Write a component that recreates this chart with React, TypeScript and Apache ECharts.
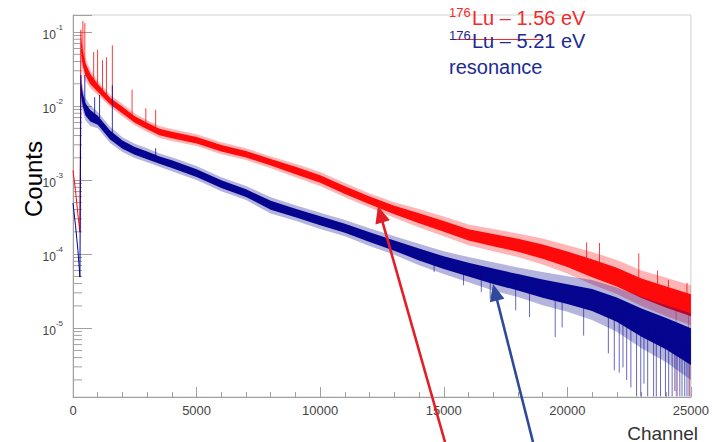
import React, { useEffect, useRef } from "react";
import * as echarts from "echarts";

// ---- data (counts are stored as log10 exponents) ----
const Y_MIN = 1.175e-6;
const Y_MAX = 0.17;

const leadChannels = [0, 100, 200, 280, 320];
const redLeadExp = [-2.87, -3.14, -3.47, -3.7, -0.97];
const blueLeadExp = [-3.31, -3.61, -3.95, -4.31, -1.58];

const bandChannels = [
  320, 400, 500, 700, 1000, 1500, 2000, 2500, 3000, 3500, 4000, 5000, 6000, 7000, 8000, 9000, 10000,
  11000, 12000, 13000, 14000, 15000, 16000, 17000, 18000, 19000, 20000, 21000, 22000, 23000, 24000, 25000,
];
const redHighExp = [
  -0.97, -1.18, -1.35, -1.51, -1.66, -1.85, -1.97, -2.1, -2.19, -2.27, -2.31, -2.38, -2.49, -2.57, -2.68, -2.78,
  -2.89, -3.04, -3.18, -3.3, -3.39, -3.49, -3.6, -3.66, -3.72, -3.79, -3.88, -3.97, -4.08, -4.22, -4.32, -4.42,
];
const redLowExp = [
  -1.38, -1.54, -1.65, -1.76, -1.85, -2.01, -2.14, -2.26, -2.35, -2.43, -2.47, -2.54, -2.65, -2.73, -2.84, -2.96,
  -3.08, -3.23, -3.37, -3.51, -3.64, -3.76, -3.88, -3.96, -4.04, -4.14, -4.26, -4.41, -4.54, -4.7, -4.84, -4.96,
];
const blueHighExp = [
  -1.58, -1.76, -1.89, -1.99, -2.08, -2.28, -2.42, -2.51, -2.57, -2.64, -2.69, -2.81, -2.96, -3.08, -3.23, -3.34,
  -3.44, -3.54, -3.65, -3.76, -3.86, -3.96, -4.04, -4.11, -4.18, -4.24, -4.3, -4.35, -4.45, -4.58, -4.69, -4.8,
];
const blueLowExp = [
  -1.92, -2.08, -2.19, -2.27, -2.3, -2.5, -2.62, -2.7, -2.76, -2.82, -2.88, -3.0, -3.15, -3.27, -3.45, -3.55,
  -3.66, -3.76, -3.89, -4.01, -4.15, -4.27, -4.38, -4.49, -4.58, -4.69, -4.78, -4.89, -5.05, -5.27, -5.46, -5.7,
];

const redSpikeChannels = [400, 478, 836, 995, 1194, 1354, 1592, 2389, 2946, 3344, 20780, 21300, 22890, 23650, 24090, 24840];
const redSpikeExp = [-0.85, -0.88, -1.27, -1.24, -1.38, -1.34, -1.18, -1.78, -2.03, -2.05, -3.84, -3.85, -3.99, -4.22, -4.35, -4.39];

const redDipChannels = [24400, 24900];
const redDipExp = [-5.92, -5.92];

const blueSpikeChannels = [478, 876, 1075, 1592, 2468, 2946, 3344];
const blueSpikeExp = [-1.58, -1.88, -1.85, -1.72, -2.6, -2.69, -2.57];

const blueDipChannels = [
  14610, 15800, 16520, 16880, 17910, 18470, 19510, 19790, 20660, 21660, 21900, 22100, 22250, 22400, 22570, 22800,
  22970, 23100, 23250, 23490, 23600, 23770, 23970, 24100, 24240, 24350, 24440, 24550, 24640, 24750, 24840, 24950,
];
const blueDipExp = [
  -4.24, -4.42, -4.51, -4.6, -4.76, -4.85, -5.12, -4.99, -5.1, -5.34, -5.57, -5.6, -5.53, -5.7, -5.8, -5.92,
  -5.92, -5.75, -5.92, -5.92, -5.92, -5.92, -5.92, -5.92, -5.92, -5.85, -5.92, -5.92, -5.92, -5.92, -5.92, -5.92,
];

const xTickStep = 5000;

// ---- styles ----
const FONT = "'Liberation Sans', Arial, Helvetica, sans-serif";
const RED = "#ff0a0a";
const BLUE = "#05058f";
const TEXT_RED = "#f22a2a";
const TEXT_BLUE = "#1c2a96";

function centerAt(hi: number[], lo: number[], c: number) {
  const ch = bandChannels;
  if (c <= ch[0]) return (hi[0] + lo[0]) / 2;
  for (let i = 0; i < ch.length - 1; i++) {
    if (c >= ch[i] && c <= ch[i + 1]) {
      const t = (c - ch[i]) / (ch[i + 1] - ch[i]);
      const a = (hi[i] + lo[i]) / 2;
      const b = (hi[i + 1] + lo[i + 1]) / 2;
      return a + (b - a) * t;
    }
  }
  const n = ch.length - 1;
  return (hi[n] + lo[n]) / 2;
}

function bandSeries(hi: number[], lo: number[], frac: number, color: string, opacity: number) {
  const h = hi.map((v, i) => (hi[i] + lo[i]) / 2 + frac * (v - (hi[i] + lo[i]) / 2));
  const l = lo.map((v, i) => (hi[i] + lo[i]) / 2 + frac * (v - (hi[i] + lo[i]) / 2));
  return {
    type: "custom",
    silent: true,
    clip: true,
    data: bandChannels.map((c, i) => [c, Math.pow(10, h[i]), Math.pow(10, l[i])]),
    renderItem: (params: any, api: any) => {
      if (params.dataIndex !== 0) return null;
      const pts: number[][] = [];
      for (let i = 0; i < bandChannels.length; i++) pts.push(api.coord([bandChannels[i], Math.pow(10, h[i])]));
      for (let i = bandChannels.length - 1; i >= 0; i--) pts.push(api.coord([bandChannels[i], Math.pow(10, l[i])]));
      return { type: "polygon", shape: { points: pts }, style: { fill: color, opacity } };
    },
  };
}

function spikeSeries(chs: number[], exps: number[], hi: number[], lo: number[], color: string, opacity: number) {
  return {
    type: "custom",
    silent: true,
    clip: true,
    data: chs.map((c, i) => [c, Math.pow(10, exps[i]), Math.pow(10, centerAt(hi, lo, c))]),
    renderItem: (params: any, api: any) => {
      const a = api.coord([api.value(0), api.value(1)]);
      const b = api.coord([api.value(0), api.value(2)]);
      return {
        type: "line",
        shape: { x1: a[0], y1: a[1], x2: b[0], y2: b[1] },
        style: { stroke: color, lineWidth: 1, opacity },
      };
    },
  };
}

function leadSeries(exps: number[], color: string) {
  return {
    type: "line",
    silent: true,
    showSymbol: false,
    symbol: "none",
    data: leadChannels.map((c, i) => [c, Math.pow(10, exps[i])]),
    lineStyle: { color, width: 1 },
  };
}

function arrow(x0: number, y0: number, x1: number, y1: number, color: string) {
  const dx = x1 - x0;
  const dy = y1 - y0;
  const len = Math.sqrt(dx * dx + dy * dy);
  const ux = dx / len;
  const uy = dy / len;
  const hl = 17;
  const hw = 7.5;
  const bx = x1 - ux * hl;
  const by = y1 - uy * hl;
  const px = -uy;
  const py = ux;
  return [
    {
      type: "line",
      shape: { x1: x0, y1: y0, x2: bx + ux * 2, y2: by + uy * 2 },
      style: { stroke: color, lineWidth: 2.6 },
      z: 100,
    },
    {
      type: "polygon",
      shape: {
        points: [
          [x1, y1],
          [bx + px * hw, by + py * hw],
          [bx - px * hw, by - py * hw],
        ],
      },
      style: { fill: color },
      z: 100,
    },
  ];
}

export default function App() {
  const ref = useRef<HTMLDivElement>(null);
  useEffect(() => {
    if (!ref.current) return;
    const chart = echarts.init(ref.current, undefined, { renderer: "svg" });

    const minorVals: number[][] = [];
    for (let n = -7; n <= 0; n++) {
      for (let k = 2; k <= 9; k++) {
        const v = k * Math.pow(10, n);
        if (v > Y_MIN && v < Y_MAX) minorVals.push([0, v]);
      }
    }

    const option: any = {
      animation: false,
      grid: {
        left: 73,
        right: 11,
        top: 15,
        bottom: 45,
        show: true,
        borderColor: "#cfcfcf",
        borderWidth: 1,
      },
      xAxis: {
        type: "value",
        min: 0,
        max: 25000,
        interval: xTickStep,
        axisLine: { show: true, lineStyle: { color: "#a0a0a0", width: 1 } },
        axisTick: { show: true, inside: true, length: 10, lineStyle: { color: "#a0a0a0" } },
        minorTick: { show: true, splitNumber: 5, length: 5, lineStyle: { color: "#a0a0a0" } },
        axisLabel: {
          color: "#444",
          fontSize: 13,
          margin: 7,
          fontFamily: FONT,
          formatter: (v: number) => String(v),
        },
        splitLine: { show: false },
        minorSplitLine: { show: false },
      },
      yAxis: {
        type: "log",
        logBase: 10,
        min: Y_MIN,
        max: Y_MAX,
        axisLine: { show: true, lineStyle: { color: "#a0a0a0", width: 1 } },
        axisTick: { show: true, inside: true, length: 19, lineStyle: { color: "#a0a0a0" } },
        splitLine: { show: false },
        axisLabel: {
          margin: 10,
          formatter: (v: number) => {
            const e = Math.log10(v);
            const r = Math.round(e);
            if (Math.abs(e - r) > 1e-6) return "";
            return "{b|10}{s|" + r + "}";
          },
          rich: {
            b: { fontSize: 12, color: "#444", fontFamily: FONT, verticalAlign: "bottom", lineHeight: 18 },
            s: { fontSize: 8, color: "#444", fontFamily: FONT, verticalAlign: "top", lineHeight: 10 },
          },
        },
      },
      series: [
        bandSeries(redHighExp, redLowExp, 1, RED, 0.3),
        bandSeries(redHighExp, redLowExp, 0.55, RED, 1),
        leadSeries(redLeadExp, RED),
        spikeSeries(redSpikeChannels, redSpikeExp, redHighExp, redLowExp, RED, 0.8),
        spikeSeries(redDipChannels, redDipExp, redHighExp, redLowExp, RED, 0.4),
        bandSeries(blueHighExp, blueLowExp, 1, BLUE, 0.3),
        bandSeries(blueHighExp, blueLowExp, 0.55, BLUE, 1),
        leadSeries(blueLeadExp, BLUE),
        spikeSeries(blueSpikeChannels, blueSpikeExp, blueHighExp, blueLowExp, BLUE, 0.8),
        spikeSeries(blueDipChannels, blueDipExp, blueHighExp, blueLowExp, BLUE, 0.6),
        {
          type: "custom",
          silent: true,
          data: minorVals,
          renderItem: (params: any, api: any) => {
            const p = api.coord([api.value(0), api.value(1)]);
            return {
              type: "line",
              shape: { x1: p[0], y1: p[1], x2: p[0] + 9, y2: p[1] },
              style: { stroke: "#a0a0a0", lineWidth: 1 },
            };
          },
        },
      ],
      graphic: [
        {
          type: "text",
          x: 33,
          y: 179,
          rotation: Math.PI / 2,
          style: { text: "Counts", font: `24px ${FONT}`, fill: "#000", align: "center", verticalAlign: "middle" },
        },
        {
          type: "text",
          x: 698,
          y: 433,
          style: { text: "Channel", font: `19px ${FONT}`, fill: "#333", align: "right", verticalAlign: "middle" },
        },
        {
          type: "line",
          shape: { x1: 450, y1: 39.5, x2: 544, y2: 39.5 },
          style: { stroke: TEXT_RED, lineWidth: 1.2 },
          z: 90,
        },
        {
          type: "text",
          x: 449,
          y: 12.5,
          style: { text: "176", font: `13px ${FONT}`, fill: TEXT_RED, align: "left", verticalAlign: "middle" },
          z: 95,
        },
        {
          type: "text",
          x: 472,
          y: 18,
          style: { text: "Lu – 1.56 eV", font: `20px ${FONT}`, fill: TEXT_RED, align: "left", verticalAlign: "middle" },
          z: 95,
        },
        {
          type: "text",
          x: 449,
          y: 35.5,
          style: { text: "176", font: `13px ${FONT}`, fill: TEXT_BLUE, align: "left", verticalAlign: "middle" },
          z: 95,
        },
        {
          type: "text",
          x: 472,
          y: 41,
          style: { text: "Lu – 5.21 eV", font: `20px ${FONT}`, fill: TEXT_BLUE, align: "left", verticalAlign: "middle" },
          z: 95,
        },
        {
          type: "text",
          x: 449,
          y: 67,
          style: { text: "resonance", font: `20px ${FONT}`, fill: TEXT_BLUE, align: "left", verticalAlign: "middle" },
          z: 95,
        },
        ...arrow(445, 442, 378, 206, "#e41e26"),
        ...arrow(533, 442, 493, 284, "#2f4a9c"),
      ],
    };
    chart.setOption(option);
    return () => chart.dispose();
  }, []);
  return (
    <div
      ref={ref}
      style={{ position: "fixed", left: 0, top: 0, width: 712, height: 442, background: "#fff" }}
    />
  );
}
